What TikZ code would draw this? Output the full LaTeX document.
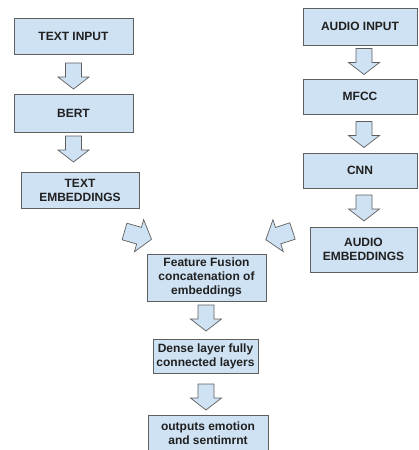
\documentclass[tikz,border=0pt]{standalone}
\usepackage{fontspec}
\setmainfont{Liberation Sans}
\definecolor{boxfill}{HTML}{CFE2F3}
\definecolor{boxline}{HTML}{5F5F5F}
\definecolor{txt}{HTML}{202020}
\begin{document}
\begin{tikzpicture}[x=1pt,y=-1pt,
  box/.style={rectangle,draw=boxline,fill=boxfill,line width=0.8pt,
    inner sep=1pt,align=center,text=txt,
    font=\fontsize{12}{14}\selectfont\bfseries},
  blockarrow/.pic={
    \draw[draw=boxline,fill=boxfill,line width=0.7pt,line join=miter]
      (0,8) -- (14,8) -- (14,15.5) -- (26,0) -- (14,-15.5) -- (14,-8) -- (0,-8) -- cycle;
  }]
\useasboundingbox (0,0) rectangle (418,450);

% left column
\node[box,minimum width=119,minimum height=36] (ti) at (73.5,36) {TEXT INPUT};
\node[box,minimum width=119,minimum height=38] (bert) at (73.5,113) {BERT};
\node[box,minimum width=118,minimum height=36] (te) at (80,190) {TEXT\\EMBEDDINGS};

% right column
\node[box,minimum width=114,minimum height=37] (ai) at (360,26.5) {AUDIO INPUT};
\node[box,minimum width=114,minimum height=35] (mfcc) at (360,96.5) {MFCC};
\node[box,minimum width=114,minimum height=35] (cnn) at (360,170.5) {CNN};
\node[box,minimum width=107,minimum height=45] (ae) at (363.5,249.5) {AUDIO\\EMBEDDINGS};

% centre column
\node[box,minimum width=119,minimum height=47] (ff) at (206.5,277.5) {Feature Fusion\\concatenation of\\embeddings};
\node[box,minimum width=105,minimum height=34] (dense) at (205.5,356) {Dense layer fully\\connected layers};
\node[box,minimum width=120,minimum height=36] (out) at (208,433.5) {outputs emotion\\and sentimrnt};

% block arrows
\pic[rotate=-90] at (73.5,63) {blockarrow};
\pic[rotate=-90] at (73.5,136) {blockarrow};
\pic[rotate=-90] at (364,48.5) {blockarrow};
\pic[rotate=-90] at (364,121.5) {blockarrow};
\pic[rotate=-90] at (364,195) {blockarrow};
\pic[rotate=-90] at (206,305) {blockarrow};
\pic[rotate=-90] at (206,384) {blockarrow};
\pic[rotate=-16,scale=1.08] at (124.5,231.5) {blockarrow};
\pic[rotate=-162,scale=1.08] at (292.5,231) {blockarrow};
\end{tikzpicture}
\end{document}
